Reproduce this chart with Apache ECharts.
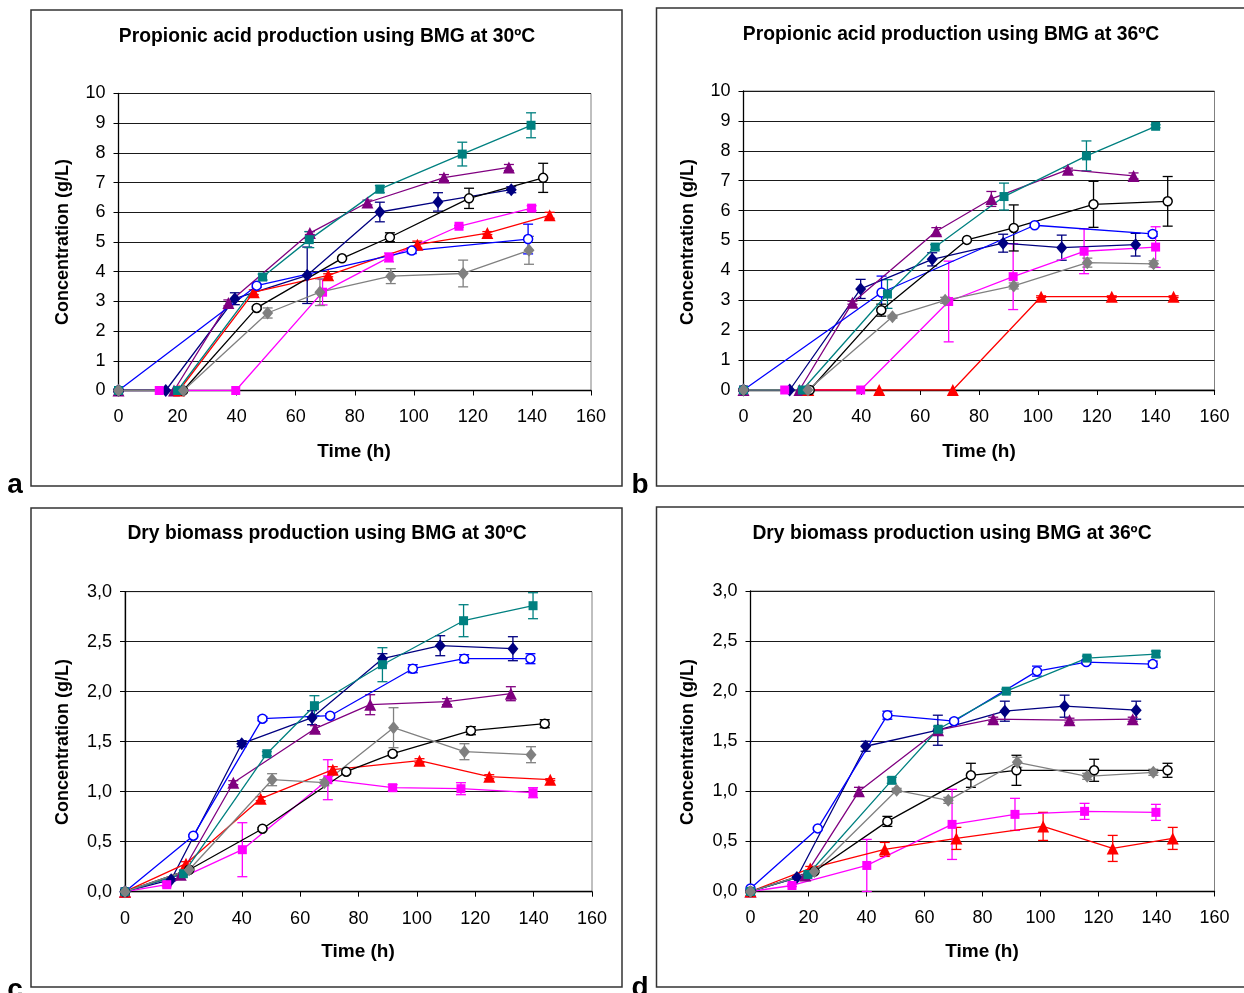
<!DOCTYPE html>
<html>
<head>
<meta charset="utf-8">
<script src="https://cdn.jsdelivr.net/npm/echarts@6/dist/echarts.min.js"></script>
<style>
  html, body { margin: 0; padding: 0; background: #fff; }
  #chart { width: 1244px; height: 993px; }
</style>
</head>
<body>
<div id="chart"></div>
<script>
// Each point: [time (h), concentration (g/L), standard deviation]

// (a) propionic acid, 30 ºC
const a_navy    = [[0,0,0],[16,0,0],[39.4,3.09,0.2],[63.9,3.88,0.95],[88.5,6.01,0.33],[108.2,6.35,0.31],[133,6.76,0.1]];
const a_teal    = [[0,0,0],[20,0,0],[48.8,3.82,0.1],[64.6,5.08,0.27],[88.5,6.78,0.12],[116.4,7.96,0.4],[139.7,8.93,0.42]];
const a_purple  = [[0,0,0],[18.8,0,0],[37.2,2.95,0.1],[64.8,5.3,0.05],[84.3,6.33,0.08],[110.2,7.17,0.1],[132.2,7.51,0.1]];
const a_black   = [[0,0,0],[21.9,0,0],[46.8,2.78,0.05],[75.7,4.45,0.03],[91.9,5.16,0.15],[118.7,6.47,0.34],[143.8,7.16,0.49]];
const a_blue    = [[0,0,0],[46.8,3.53,0.05],[99.3,4.71,0.1],[138.7,5.1,0.5]];
const a_magenta = [[0,0,0],[13.8,0,0],[39.7,0,0],[69.1,3.31,0.43],[91.6,4.48,0.15],[115.3,5.53,0.03],[139.9,6.14,0.08]];
const a_red     = [[20.5,0,0],[45.8,3.31,0.08],[71,3.88,0.05],[101.2,4.91,0.12],[124.9,5.3,0.05],[146,5.9,0.1]];
const a_gray    = [[0,0,0],[22,0,0],[50.5,2.61,0.17],[68.2,3.31,0.45],[92.2,3.85,0.25],[116.7,3.94,0.45],[139,4.72,0.47]];

// (b) propionic acid, 36 ºC
const b_navy    = [[0,0,0],[15.7,0,0],[39.8,3.38,0.32],[64.1,4.37,0.22],[88.2,4.91,0.3],[108.1,4.76,0.42],[133.2,4.86,0.38]];
const b_teal    = [[0,0,0],[20,0,0],[48.9,3.21,0.48],[65.1,4.78,0.08],[88.5,6.47,0.45],[116.5,7.83,0.5],[140,8.82,0.05]];
const b_purple  = [[0,0,0],[19,0,0],[37,2.92,0.05],[65.5,5.31,0.12],[84.2,6.39,0.25],[110.2,7.37,0.05],[132.5,7.16,0.1]];
const b_black   = [[0,0,0],[22.5,0,0],[46.8,2.67,0.2],[75.9,5.02,0.03],[91.8,5.42,0.77],[118.9,6.21,0.77],[144.1,6.31,0.83]];
const b_blue    = [[0,0,0],[46.9,3.26,0.55],[98.9,5.51,0.05],[139,5.22,0.08]];
const b_magenta = [[0,0,0],[14,0,0],[39.8,0,0],[69.7,2.96,1.35],[91.6,3.79,1.1],[115.7,4.64,0.75],[140,4.78,0.68]];
const b_red     = [[22,0,0],[46.1,0,0],[71.1,0,0],[101.1,3.12,0.03],[125.1,3.12,0.03],[146.1,3.12,0.03]];
const b_gray    = [[0,0,0],[21.9,0,0],[50.6,2.45,0.05],[68.5,3.0,0.1],[91.8,3.48,0.1],[116.8,4.26,0.15],[139.3,4.22,0.1]];

// (c) dry biomass, 30 ºC
const c_navy    = [[0,0,0],[15.8,0.12,0.01],[40,1.48,0.03],[64.1,1.74,0.07],[88.2,2.33,0.05],[108,2.46,0.1],[132.9,2.43,0.12]];
const c_teal    = [[0,0,0],[20,0.18,0.01],[48.6,1.38,0.02],[64.9,1.86,0.1],[88.2,2.27,0.17],[116,2.71,0.16],[139.8,2.86,0.13]];
const c_purple  = [[0,0,0],[19.1,0.17,0.01],[37.1,1.09,0.02],[65.1,1.63,0.03],[84,1.87,0.1],[110.3,1.9,0.03],[132.2,1.98,0.07]];
const c_black   = [[0,0,0],[22,0.22,0.01],[47.1,0.63,0.01],[75.8,1.2,0.02],[91.7,1.38,0.02],[118.5,1.61,0.04],[143.8,1.68,0.04]];
const c_blue    = [[0,0,0],[23.4,0.56,0.01],[47.1,1.73,0.02],[70.3,1.76,0.02],[98.6,2.23,0.04],[116.2,2.33,0.04],[138.9,2.33,0.05]];
const c_magenta = [[0,0,0],[14.3,0.07,0.02],[40.2,0.42,0.27],[69.5,1.12,0.2],[91.7,1.04,0.03],[115.1,1.03,0.06],[139.8,0.99,0.05]];
const c_red     = [[0,0,0],[20.9,0.28,0.02],[46.5,0.93,0.02],[71.2,1.22,0.03],[100.9,1.31,0.02],[124.8,1.15,0.02],[145.7,1.12,0.01]];
const c_gray    = [[0,0,0],[22,0.22,0.01],[50.4,1.12,0.06],[68.3,1.09,0.03],[92,1.64,0.2],[116.3,1.4,0.08],[139.1,1.37,0.08]];

// (d) dry biomass, 36 ºC
const d_navy    = [[0,0,0],[16,0.14,0.01],[39.7,1.45,0.05],[64.6,1.61,0.15],[87.7,1.8,0.1],[108.3,1.85,0.11],[133,1.81,0.09]];
const d_teal    = [[0,0,0],[19.8,0.17,0.01],[48.7,1.11,0.03],[64.7,1.62,0.03],[88.2,2.0,0.02],[116,2.33,0.02],[139.8,2.37,0.03]];
const d_purple  = [[0,0,0],[18.9,0.16,0.01],[37.4,1.0,0.04],[64.7,1.61,0.02],[83.7,1.72,0.02],[110,1.71,0.02],[131.8,1.72,0.02]];
const d_black   = [[0,0,0],[22,0.2,0.01],[47.2,0.7,0.05],[76,1.16,0.12],[91.7,1.21,0.15],[118.5,1.21,0.11],[143.8,1.21,0.07]];
const d_blue    = [[0,0.03,0],[23.2,0.63,0.01],[47.2,1.76,0.04],[70.2,1.7,0.02],[98.8,2.2,0.05],[115.8,2.29,0.02],[138.7,2.27,0.03]];
const d_magenta = [[0,0,0],[14.3,0.06,0.01],[40.1,0.26,0.26],[69.5,0.67,0.35],[91.2,0.77,0.16],[115.2,0.8,0.08],[139.8,0.79,0.08]];
const d_red     = [[0,0,0],[20.6,0.23,0.02],[46.3,0.42,0.07],[71,0.53,0.11],[100.9,0.65,0.14],[124.9,0.43,0.13],[145.6,0.53,0.11]];
const d_gray    = [[0,0,0],[22,0.2,0.01],[50.4,1.01,0.02],[68.2,0.91,0.03],[92,1.29,0.05],[116.1,1.15,0.03],[138.9,1.19,0.03]];

// Axis ranges
const timeMax = 160, timeStep = 20;
const acidMax = 10, acidStep = 1;
const massMax = 3, massStep = 0.5;

const titles = [
  'Propionic acid production using BMG at 30ºC',
  'Propionic acid production using BMG at 36ºC',
  'Dry biomass production using BMG at 30ºC',
  'Dry biomass production using BMG at 36ºC'
];
const panelLetters = ['a', 'b', 'c', 'd'];
const xName = 'Time (h)';
const yName = 'Concentration (g/L)';

// Marker / colour per strain series
const STYLES = {
  navy:    { color: '#000080', symbol: 'diamond',  size: [11, 13], fill: '#000080' },
  teal:    { color: '#008080', symbol: 'rect',     size: 9,        fill: '#008080' },
  purple:  { color: '#800080', symbol: 'triangle', size: 12,       fill: '#800080' },
  black:   { color: '#000000', symbol: 'circle',   size: 9,        fill: '#ffffff' },
  blue:    { color: '#0000ff', symbol: 'circle',   size: 9,        fill: '#ffffff' },
  magenta: { color: '#ff00ff', symbol: 'rect',     size: 9,        fill: '#ff00ff' },
  red:     { color: '#ff0000', symbol: 'triangle', size: 12,       fill: '#ff0000' },
  gray:    { color: '#808080', symbol: 'diamond',  size: [11, 13], fill: '#808080' }
};
const ORDER = ['navy', 'purple', 'magenta', 'red', 'blue', 'black', 'teal', 'gray'];

const panels = [
  { navy: a_navy, teal: a_teal, purple: a_purple, black: a_black, blue: a_blue, magenta: a_magenta, red: a_red, gray: a_gray },
  { navy: b_navy, teal: b_teal, purple: b_purple, black: b_black, blue: b_blue, magenta: b_magenta, red: b_red, gray: b_gray },
  { navy: c_navy, teal: c_teal, purple: c_purple, black: c_black, blue: c_blue, magenta: c_magenta, red: c_red, gray: c_gray },
  { navy: d_navy, teal: d_teal, purple: d_purple, black: d_black, blue: d_blue, magenta: d_magenta, red: d_red, gray: d_gray }
];

const grids = [
  { left: 118.5, top: 93.5, width: 472.5, height: 297 },
  { left: 743.5, top: 91,   width: 471,   height: 299 },
  { left: 125,   top: 591.7, width: 467,  height: 300 },
  { left: 750.5, top: 591,  width: 464,   height: 300.5 }
];

const FONT = 'Liberation Sans, Arial, sans-serif';

function makeErrorRender(color) {
  return function (params, api) {
    const x = api.value(0), lo = api.value(1), hi = api.value(2);
    const p1 = api.coord([x, hi]);
    const p2 = api.coord([x, lo]);
    const w = 5;
    const style = { stroke: color, lineWidth: 1.3 };
    return {
      type: 'group',
      children: [
        { type: 'line', shape: { x1: p1[0], y1: p1[1], x2: p2[0], y2: p2[1] }, style },
        { type: 'line', shape: { x1: p1[0] - w, y1: p1[1], x2: p1[0] + w, y2: p1[1] }, style },
        { type: 'line', shape: { x1: p2[0] - w, y1: p2[1], x2: p2[0] + w, y2: p2[1] }, style }
      ]
    };
  };
}

const xAxes = [], yAxes = [], series = [];
panels.forEach((panel, i) => {
  const isAcid = i < 2;
  xAxes.push({
    gridIndex: i, type: 'value', min: 0, max: timeMax, interval: timeStep,
    axisLine: { show: true, onZero: false, lineStyle: { color: '#000', width: 1.3 } },
    axisTick: { show: true, length: 5, lineStyle: { color: '#000' } },
    axisLabel: { color: '#000', fontFamily: FONT, fontSize: 18, margin: 18 },
    splitLine: { show: false }
  });
  yAxes.push({
    gridIndex: i, type: 'value', min: 0,
    max: isAcid ? acidMax : massMax, interval: isAcid ? acidStep : massStep,
    axisLine: { show: true, lineStyle: { color: '#000', width: 1.3 } },
    axisTick: { show: true, length: 5, lineStyle: { color: '#000' } },
    axisLabel: {
      color: '#000', fontFamily: FONT, fontSize: 18, margin: 13,
      formatter: isAcid ? (v) => String(v) : (v) => v.toFixed(1).replace('.', ',')
    },
    splitLine: { show: true, lineStyle: { color: '#1a1a1a', width: 1 } }
  });

  ORDER.forEach((key) => {
    const st = STYLES[key];
    const rows = panel[key];
    series.push({
      type: 'line', name: key, xAxisIndex: i, yAxisIndex: i,
      data: rows.map(r => [r[0], r[1]]),
      symbol: st.symbol, symbolSize: st.size, showSymbol: true,
      lineStyle: { color: st.color, width: 1.3 },
      itemStyle: {
        color: st.fill,
        borderColor: st.color,
        borderWidth: st.fill === '#ffffff' ? 1.5 : 0
      },
      animation: false, z: 3
    });
    const errs = rows.filter(r => r[2] > 0).map(r => [r[0], Math.max(0, r[1] - r[2]), r[1] + r[2]]);
    series.push({
      type: 'custom', name: key + ' sd', xAxisIndex: i, yAxisIndex: i,
      data: errs, renderItem: makeErrorRender(st.color),
      encode: { x: 0, y: [1, 2] }, animation: false, z: 2, silent: true
    });
  });
});

// Frame, titles, axis names and panel letters
const frames = [
  { x: 31, y: 10, width: 591, height: 476 },
  { x: 656.5, y: 8, width: 600, height: 478 },
  { x: 31, y: 508, width: 591, height: 479 },
  { x: 656.5, y: 507, width: 600, height: 480 }
];
const titlePos = [[327, 37], [951, 35], [327, 534], [952, 534]];
const yNamePos = [[63, 242], [688, 242], [63, 742], [688, 742]];
const xNamePos = [[354, 452], [979, 452], [358, 952], [982, 952]];
const letterPos = [[15, 485], [640, 485], [15, 990], [640, 988]];

const graphic = [];
frames.forEach((f, i) => {
  graphic.push({ type: 'rect', shape: f, style: { fill: 'none', stroke: '#333', lineWidth: 1.5 }, z: 0 });
  graphic.push({ type: 'text', x: titlePos[i][0], y: titlePos[i][1],
    style: { text: titles[i], font: 'bold 19.3px ' + FONT, fill: '#000', textAlign: 'center', textVerticalAlign: 'middle' } });
  graphic.push({ type: 'text', x: yNamePos[i][0], y: yNamePos[i][1], rotation: Math.PI / 2,
    style: { text: yName, font: 'bold 18px ' + FONT, fill: '#000', textAlign: 'center', textVerticalAlign: 'middle' } });
  graphic.push({ type: 'text', x: xNamePos[i][0], y: xNamePos[i][1],
    style: { text: xName, font: 'bold 19px ' + FONT, fill: '#000', textAlign: 'center', textVerticalAlign: 'middle' } });
  graphic.push({ type: 'text', x: letterPos[i][0], y: letterPos[i][1],
    style: { text: panelLetters[i], font: 'bold 28px ' + FONT, fill: '#000', textAlign: 'center', textVerticalAlign: 'middle' } });
});

const chart = echarts.init(document.getElementById('chart'), null, { renderer: 'canvas' });
chart.setOption({
  animation: false,
  backgroundColor: '#fff',
  grid: grids.map(g => Object.assign({ show: true, borderColor: '#808080', borderWidth: 1, backgroundColor: 'transparent' }, g)),
  xAxis: xAxes,
  yAxis: yAxes,
  series: series,
  graphic: graphic
});
</script>
</body>
</html>
